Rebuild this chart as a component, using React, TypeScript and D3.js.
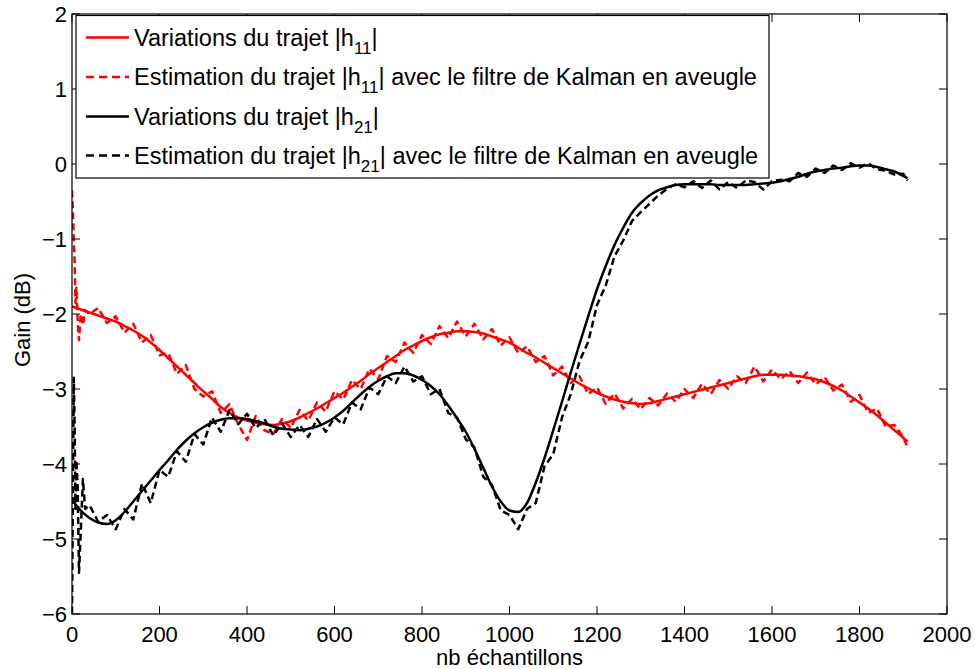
import React from "react";
import * as d3 from "d3";

// ---- data ----
const trueX = [0,20,40,60,80,100,120,140,160,180,200,220,240,260,280,300,320,340,360,380,400,420,440,460,480,500,520,540,560,580,600,620,640,660,680,700,720,740,760,780,800,820,840,860,880,900,920,940,960,980,1000,1020,1040,1060,1080,1100,1120,1140,1160,1180,1200,1220,1240,1260,1280,1300,1320,1340,1360,1380,1400,1420,1440,1460,1480,1500,1520,1540,1560,1580,1600,1620,1640,1660,1680,1700,1720,1740,1760,1780,1800,1820,1840,1860,1880,1900,1910];

const trueH11 = [-1.9,-1.94,-1.98,-2.02,-2.06,-2.1,-2.16,-2.22,-2.29,-2.38,-2.48,-2.59,-2.7,-2.81,-2.92,-3.03,-3.13,-3.24,-3.32,-3.38,-3.42,-3.45,-3.47,-3.48,-3.46,-3.43,-3.38,-3.32,-3.26,-3.19,-3.12,-3.05,-2.97,-2.89,-2.8,-2.72,-2.64,-2.56,-2.48,-2.42,-2.36,-2.31,-2.27,-2.25,-2.23,-2.23,-2.24,-2.26,-2.3,-2.34,-2.38,-2.45,-2.52,-2.58,-2.65,-2.72,-2.79,-2.86,-2.93,-2.99,-3.05,-3.1,-3.14,-3.17,-3.19,-3.2,-3.19,-3.16,-3.13,-3.1,-3.07,-3.04,-3.01,-2.98,-2.95,-2.92,-2.89,-2.86,-2.83,-2.81,-2.81,-2.81,-2.82,-2.83,-2.85,-2.87,-2.91,-2.96,-3.02,-3.1,-3.18,-3.26,-3.35,-3.45,-3.55,-3.65,-3.7];

const trueH21 = [-4.48,-4.62,-4.72,-4.78,-4.8,-4.75,-4.64,-4.5,-4.36,-4.22,-4.08,-3.95,-3.81,-3.69,-3.59,-3.51,-3.45,-3.41,-3.39,-3.39,-3.4,-3.43,-3.46,-3.5,-3.53,-3.54,-3.55,-3.53,-3.5,-3.45,-3.38,-3.29,-3.18,-3.07,-2.97,-2.89,-2.83,-2.79,-2.79,-2.82,-2.88,-2.96,-3.07,-3.22,-3.39,-3.57,-3.8,-4.05,-4.3,-4.5,-4.62,-4.64,-4.52,-4.25,-3.92,-3.55,-3.17,-2.78,-2.4,-2.03,-1.67,-1.36,-1.08,-0.85,-0.65,-0.52,-0.42,-0.35,-0.31,-0.28,-0.27,-0.27,-0.27,-0.27,-0.28,-0.28,-0.28,-0.28,-0.27,-0.26,-0.25,-0.23,-0.2,-0.17,-0.13,-0.1,-0.08,-0.06,-0.05,-0.03,-0.02,-0.02,-0.04,-0.07,-0.1,-0.16,-0.19];

const estX = [0,2,4,6,8,10,13,16,20,25,30,40,60,80,100,120,140,160,180,200,220,240,260,280,300,320,340,360,380,400,420,440,460,480,500,520,540,560,580,600,620,640,660,680,700,720,740,760,780,800,820,840,860,880,900,920,940,960,980,1000,1020,1040,1060,1080,1100,1120,1140,1160,1180,1200,1220,1240,1260,1280,1300,1320,1340,1360,1380,1400,1420,1440,1460,1480,1500,1520,1540,1560,1580,1600,1620,1640,1660,1680,1700,1720,1740,1760,1780,1800,1820,1840,1860,1880,1900,1910];

const estH11 = [-0.35,-0.6,-1.0,-1.3,-1.85,-1.65,-2.1,-2.35,-2.0,-2.15,-1.95,-2.0,-1.92,-2.12,-2.03,-2.25,-2.13,-2.38,-2.28,-2.55,-2.52,-2.8,-2.68,-3.0,-3.1,-3.03,-3.32,-3.2,-3.47,-3.68,-3.36,-3.55,-3.6,-3.4,-3.52,-3.28,-3.42,-3.18,-3.3,-3.03,-3.14,-2.88,-3.0,-2.73,-2.87,-2.56,-2.64,-2.38,-2.52,-2.28,-2.4,-2.16,-2.32,-2.1,-2.3,-2.13,-2.34,-2.2,-2.42,-2.31,-2.52,-2.43,-2.64,-2.56,-2.82,-2.7,-2.92,-2.83,-3.07,-2.98,-3.2,-3.06,-3.26,-3.13,-3.27,-3.12,-3.22,-3.06,-3.17,-3.0,-3.12,-2.93,-3.07,-2.88,-3.0,-2.83,-2.92,-2.7,-2.9,-2.74,-2.87,-2.76,-2.92,-2.78,-2.94,-2.84,-3.02,-2.94,-3.17,-3.08,-3.32,-3.26,-3.5,-3.48,-3.64,-3.78];

const estH21 = [-6.0,-4.5,-2.85,-3.5,-4.6,-3.95,-4.3,-5.45,-4.9,-4.2,-4.6,-4.55,-4.77,-4.68,-4.87,-4.6,-4.74,-4.26,-4.52,-4.08,-4.17,-3.83,-3.97,-3.6,-3.74,-3.38,-3.57,-3.28,-3.47,-3.33,-3.52,-3.4,-3.62,-3.46,-3.64,-3.48,-3.64,-3.4,-3.57,-3.38,-3.47,-3.18,-3.27,-2.98,-3.07,-2.83,-2.92,-2.7,-2.9,-2.83,-3.07,-3.0,-3.32,-3.38,-3.67,-3.78,-4.17,-4.28,-4.62,-4.68,-4.87,-4.6,-4.52,-4.03,-3.87,-3.38,-3.07,-2.63,-2.37,-1.88,-1.62,-1.23,-1.02,-0.76,-0.64,-0.53,-0.42,-0.33,-0.27,-0.31,-0.23,-0.32,-0.22,-0.34,-0.24,-0.32,-0.22,-0.24,-0.34,-0.23,-0.21,-0.23,-0.12,-0.17,-0.06,-0.12,-0.02,-0.08,0.01,-0.05,0.01,-0.07,-0.09,-0.14,-0.13,-0.22];

const xTicks = [0,200,400,600,800,1000,1200,1400,1600,1800,2000];
const yTicks = [-6,-5,-4,-3,-2,-1,0,1,2];

const legendItems = [
  { pre: "Variations du trajet |h", sub: "11", post: "|", color: "#ff0000", dashed: false },
  { pre: "Estimation du trajet |h", sub: "11", post: "| avec le filtre de Kalman en aveugle", color: "#ff0000", dashed: true },
  { pre: "Variations du trajet |h", sub: "21", post: "|", color: "#000000", dashed: false },
  { pre: "Estimation du trajet |h", sub: "21", post: "| avec le filtre de Kalman en aveugle", color: "#000000", dashed: true },
];

const W = 975, H = 669;
const M = { left: 72, right: 947, top: 14, bottom: 614 };
const FONT = "Arial, 'Liberation Sans', Helvetica, sans-serif";

export default function App() {
  const x = d3.scaleLinear().domain([0, 2000]).range([M.left, M.right]);
  const y = d3.scaleLinear().domain([-6, 2]).range([M.bottom, M.top]);

  const line = (xs: number[], ys: number[], curve: any) =>
    d3.line<number>().x((_, i) => x(xs[i])).y((d) => y(d)).curve(curve)(ys) || "";

  const solidH11 = line(trueX, trueH11, d3.curveMonotoneX);
  const solidH21 = line(trueX, trueH21, d3.curveMonotoneX);
  const dashH11 = line(estX, estH11, d3.curveLinear);
  const dashH21 = line(estX, estH21, d3.curveLinear);

  const tickLen = 8;
  const legX = 76, legY = 15.5, legW = 693, legH = 162.5;
  const rowY = [37.5, 77, 116.5, 155.5];

  return (
    <svg width={W} height={H} style={{ position: "absolute", left: 0, top: 0, background: "#fff" }} fontFamily={FONT}>
      <rect x={0} y={0} width={W} height={H} fill="#fff" />
      <defs>
        <clipPath id="plotclip">
          <rect x={M.left} y={M.top} width={M.right - M.left} height={M.bottom - M.top} />
        </clipPath>
      </defs>

      {/* data lines */}
      <g clipPath="url(#plotclip)" fill="none" strokeWidth={2.5} strokeLinejoin="round">
        <path d={dashH11} stroke="#ff0000" strokeDasharray="7,4" />
        <path d={solidH11} stroke="#ff0000" />
        <path d={dashH21} stroke="#000" strokeDasharray="7,4" />
        <path d={solidH21} stroke="#000" />
      </g>

      {/* axes box */}
      <rect x={M.left} y={M.top} width={M.right - M.left} height={M.bottom - M.top} fill="none" stroke="#000" strokeWidth={1.2} />

      {/* x ticks */}
      {xTicks.map((t) => (
        <g key={"x" + t}>
          <line x1={x(t)} x2={x(t)} y1={M.bottom} y2={M.bottom - tickLen} stroke="#000" strokeWidth={1} />
          <line x1={x(t)} x2={x(t)} y1={M.top} y2={M.top + tickLen} stroke="#000" strokeWidth={1} />
          <text x={x(t)} y={642} fontSize={22} textAnchor="middle" fill="#000">{t}</text>
        </g>
      ))}

      {/* y ticks */}
      {yTicks.map((t) => (
        <g key={"y" + t}>
          <line x1={M.left} x2={M.left + tickLen} y1={y(t)} y2={y(t)} stroke="#000" strokeWidth={1} />
          <line x1={M.right} x2={M.right - tickLen} y1={y(t)} y2={y(t)} stroke="#000" strokeWidth={1} />
          <text x={67} y={y(t)} dy="0.36em" fontSize={22} textAnchor="end" fill="#000">
            {t < 0 ? "\u2212" + Math.abs(t) : String(t)}
          </text>
        </g>
      ))}

      {/* axis labels */}
      <text x={(M.left + M.right) / 2} y={665} fontSize={22} textAnchor="middle" fill="#000">nb échantillons</text>
      <text transform={`translate(30, ${(M.top + M.bottom) / 2 + 6}) rotate(-90)`} fontSize={22} textAnchor="middle" fill="#000">Gain (dB)</text>

      {/* legend */}
      <rect x={legX} y={legY} width={legW} height={legH} fill="#fff" stroke="#000" strokeWidth={1.2} />
      {legendItems.map((it, i) => (
        <g key={"l" + i}>
          <line x1={86} x2={129} y1={rowY[i]} y2={rowY[i]} stroke={it.color} strokeWidth={2.5}
            strokeDasharray={it.dashed ? "8,5" : undefined} />
          <text x={134} y={rowY[i] + 8} fontSize={23.5} fill="#000">
            {it.pre}
            <tspan fontSize={17} dy={8}>{it.sub}</tspan>
            <tspan dy={-8}>{it.post}</tspan>
          </text>
        </g>
      ))}
    </svg>
  );
}
